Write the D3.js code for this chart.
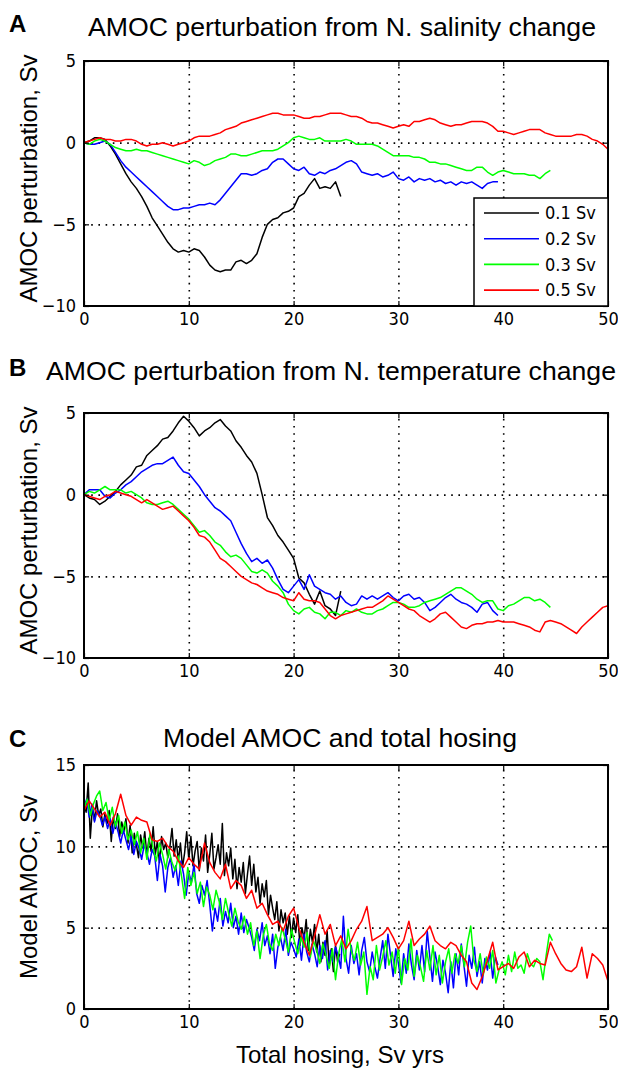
<!DOCTYPE html>
<html>
<head>
<meta charset="utf-8">
<script src="https://cdn.jsdelivr.net/npm/d3@7"></script>
<style>
  body { margin: 0; background: #fff; }
  .tick text { font-family: "Liberation Sans Narrow", "DejaVu Sans Condensed", sans-serif; font-size: 18px; fill: #000; }
  .tick line { stroke: #000; stroke-width: 1.2; }
  .grid .tick line { stroke: #000; stroke-width: 1.6; stroke-dasharray: 1.6,5.6; }
  .title { font-family: "Liberation Sans", Arial, sans-serif; font-size: 26px; fill: #000; }
  .letter { font-family: "Liberation Sans", Arial, sans-serif; font-size: 24px; font-weight: bold; fill: #000; }
  .axisLabel { font-family: "Liberation Sans", Arial, sans-serif; font-size: 24px; fill: #000; }
  .legendText { font-family: "Liberation Sans Narrow", "DejaVu Sans Condensed", sans-serif; font-size: 18px; fill: #000; }
</style>
</head>
<body>
<div id="chart"></div>
<script>
// Hosing rates (Sv) and legend labels
const rates = [0.1, 0.2, 0.3, 0.5];
const legendLabels = ["0.1 Sv", "0.2 Sv", "0.3 Sv", "0.5 Sv"];
const xTicks = [0, 10, 20, 30, 40, 50];

// x spacing (Sv yrs) of the values in each list
const perturbSteps = [0.5, 0.5, 0.5, 0.5];
const amocSteps = [0.2, 0.25, 0.3, 0.5];

// Panel A: AMOC perturbation from salinity change
const salBlack = [0, 0.1, 0.3, 0.3, 0.2, -0.2, -0.7, -1.3, -1.9, -2.4,
  -2.8, -3.3, -3.9, -4.6, -5.1, -5.6, -6.1, -6.5, -6.7, -6.6,
  -6.7, -6.5, -6.6, -7.0, -7.5, -7.8, -7.9, -7.8, -7.8, -7.3,
  -7.2, -7.4, -7.2, -6.8, -5.8, -5.0, -4.7, -4.6, -4.3, -4.2,
  -4.0, -3.3, -3.1, -2.6, -2.2, -2.8, -2.7, -2.8, -2.4, -3.3];
const salBlue = [0, -0.1, -0.1, 0.0, 0.1, -0.1, -0.6, -1.1, -1.5, -1.8,
  -2.1, -2.4, -2.7, -3.0, -3.3, -3.6, -3.9, -4.1, -4.1, -4.0,
  -4.0, -3.9, -3.8, -3.8, -3.7, -3.8, -3.5, -3.1, -2.7, -2.3,
  -1.9, -1.9, -2.0, -1.9, -1.7, -1.6, -1.2, -1.0, -1.0, -1.3,
  -1.6, -1.7, -1.5, -1.9, -2.0, -1.8, -1.9, -1.7, -1.6, -1.4,
  -1.2, -1.1, -1.3, -1.8, -1.9, -2.0, -1.9, -2.1, -2.0, -1.8,
  -2.2, -2.3, -2.1, -2.4, -2.2, -2.3, -2.2, -2.4, -2.3, -2.5,
  -2.4, -2.6, -2.4, -2.5, -2.4, -2.6, -2.8, -2.5, -2.4, -2.4];
const salGreen = [0, -0.1, 0.1, 0.2, 0.1, -0.1, -0.3, -0.4, -0.5, -0.5,
  -0.4, -0.5, -0.5, -0.6, -0.7, -0.8, -0.9, -1.0, -1.1, -1.2,
  -1.3, -1.1, -1.2, -1.4, -1.3, -1.1, -1.0, -0.9, -0.7, -0.7,
  -0.8, -0.8, -0.7, -0.6, -0.5, -0.5, -0.5, -0.4, -0.2, 0.0,
  0.3, 0.4, 0.3, 0.2, 0.2, 0.3, 0.1, 0.1, 0.1, 0.1,
  0.2, 0.1, -0.1, -0.1, -0.1, -0.1, -0.2, -0.4, -0.6, -0.8,
  -0.8, -0.8, -0.8, -0.9, -0.9, -1.0, -1.2, -1.2, -1.3, -1.3,
  -1.4, -1.5, -1.6, -1.7, -1.7, -1.5, -1.5, -1.8, -2.0, -1.8,
  -1.7, -1.8, -1.9, -1.9, -1.9, -2.0, -2.0, -2.2, -1.9, -1.7];
const salRed = [0, 0.1, 0.2, 0.3, 0.2, 0.2, 0.1, 0.1, 0.2, 0.2,
  0.1, -0.1, -0.2, -0.1, -0.1, 0.0, -0.1, -0.2, -0.1, 0.0,
  0.1, 0.3, 0.4, 0.4, 0.4, 0.5, 0.6, 0.8, 0.9, 1.0,
  1.2, 1.3, 1.4, 1.5, 1.6, 1.7, 1.8, 1.8, 1.7, 1.7,
  1.7, 1.6, 1.5, 1.5, 1.6, 1.6, 1.7, 1.8, 1.8, 1.8,
  1.7, 1.6, 1.6, 1.5, 1.3, 1.2, 1.2, 1.1, 1.0, 0.9,
  1.0, 1.1, 1.0, 1.3, 1.3, 1.4, 1.5, 1.4, 1.2, 1.1,
  1.0, 1.1, 1.1, 1.2, 1.3, 1.3, 1.3, 1.2, 1.0, 0.7,
  0.7, 0.6, 0.5, 0.6, 0.7, 0.8, 0.8, 0.8, 0.6, 0.5,
  0.4, 0.4, 0.4, 0.4, 0.5, 0.5, 0.4, 0.2, 0.1, -0.1, -0.4];

// Panel B: AMOC perturbation from temperature change
const tempBlack = [0, -0.2, -0.3, -0.6, -0.4, -0.1, 0.2, 0.6, 0.9, 1.2,
  1.7, 1.8, 2.4, 2.7, 3.0, 3.4, 3.5, 3.9, 4.4, 4.8,
  4.5, 4.1, 3.6, 3.9, 4.1, 4.4, 4.6, 4.2, 3.9, 3.3,
  2.9, 2.4, 2.0, 1.3, 0.0, -1.4, -1.9, -2.5, -2.9, -3.4,
  -3.9, -5.1, -5.4, -6.1, -6.7, -5.9, -6.8, -7.0, -7.4, -5.9];
const tempBlue = [0, 0.3, 0.3, 0.3, -0.1, -0.2, 0.1, 0.3, 0.6, 0.8,
  1.1, 1.4, 1.6, 1.8, 1.9, 1.9, 2.1, 2.3, 1.8, 1.4,
  1.3, 0.9, 0.5, 0.0, -0.4, -0.8, -1.0, -1.3, -1.6, -2.3,
  -3.0, -3.6, -4.1, -3.9, -4.2, -4.0, -4.5, -5.2, -5.8, -6.0,
  -5.6, -5.2, -5.8, -4.9, -5.6, -5.8, -6.0, -6.1, -6.4, -6.2,
  -6.6, -6.8, -6.7, -6.2, -6.4, -6.2, -6.4, -6.2, -6.0, -6.3,
  -6.5, -6.2, -6.1, -6.4, -6.3, -6.6, -7.1, -6.9, -6.6, -6.3,
  -6.1, -6.4, -6.6, -6.7, -6.9, -7.2, -6.7, -6.6, -7.1, -7.4];
const tempGreen = [0, 0.2, 0.1, 0.3, 0.5, 0.3, 0.3, 0.3, 0.1, 0.2,
  0.0, -0.2, -0.5, -0.6, -0.6, -0.5, -0.4, -0.6, -0.9, -1.2,
  -1.5, -1.9, -2.3, -2.2, -2.5, -2.9, -3.1, -3.5, -3.8, -3.7,
  -3.9, -4.3, -4.7, -4.8, -4.6, -4.8, -5.3, -5.6, -6.0, -6.7,
  -7.1, -7.3, -7.0, -6.9, -7.2, -7.3, -7.6, -7.2, -7.2, -7.4,
  -7.1, -7.2, -7.0, -7.2, -7.3, -7.3, -7.1, -7.0, -6.8, -6.6,
  -6.6, -6.7, -6.9, -6.9, -6.8, -6.6, -6.5, -6.4, -6.3, -6.1,
  -5.9, -5.7, -5.7, -5.9, -6.1, -6.4, -6.6, -6.5, -6.5, -7.0,
  -7.1, -6.8, -6.7, -6.5, -6.3, -6.3, -6.5, -6.4, -6.6, -6.9];
const tempRed = [0, -0.1, -0.2, -0.3, -0.1, 0.0, 0.2, 0.1, 0.0, -0.1,
  -0.3, -0.5, -0.3, -0.5, -0.7, -0.9, -0.8, -0.7, -1.0, -1.3,
  -1.6, -2.0, -2.5, -2.6, -2.9, -3.4, -3.9, -4.1, -4.4, -4.7,
  -5.0, -5.2, -5.4, -5.5, -5.7, -5.9, -6.0, -6.1, -6.3, -6.4,
  -6.5, -6.0, -6.4, -6.5, -6.5, -6.6, -7.0, -7.4, -7.6, -7.4,
  -7.3, -7.2, -7.1, -7.0, -6.9, -6.9, -6.7, -6.5, -6.2, -6.4,
  -6.6, -6.8, -7.0, -7.1, -7.4, -7.6, -7.8, -7.6, -7.3, -7.2,
  -7.5, -7.8, -8.1, -8.2, -8.0, -7.9, -7.9, -7.8, -7.8, -7.7,
  -7.8, -7.8, -7.8, -7.9, -8.0, -8.1, -8.3, -8.4, -7.8, -7.7,
  -7.8, -7.9, -8.1, -8.3, -8.5, -8.1, -7.8, -7.5, -7.2, -6.9, -6.8];

// Panel C: model AMOC (Sv)
const amocBlack = [12.6, 12.1, 13.9, 10.5, 12.4, 11.6, 12.8, 11.9, 12.3, 11.2, 12.0,
  11.4, 12.2, 10.3, 11.8, 11.1, 12.0, 10.6, 11.5, 10.9, 11.7,
  10.2, 11.3, 9.6, 10.8, 10.1, 9.3, 10.7, 9.9, 10.9, 9.4,
  10.5, 9.7, 11.2, 9.5, 10.3, 9.0, 10.6, 9.8, 10.2, 9.3,
  10.0, 11.1, 9.4, 10.4, 9.1, 10.2, 8.7, 9.6, 10.9, 9.2,
  10.6, 8.8, 9.7, 10.3, 8.5, 9.9, 9.1, 10.7, 8.4, 9.5,
  10.8, 8.6, 9.3, 10.1, 8.9, 11.4, 8.2, 9.6, 8.8, 9.9,
  8.0, 9.2, 7.4, 8.7, 7.8, 9.0, 7.1, 8.3, 9.4, 7.6,
  8.9, 7.2, 8.1, 6.5, 7.7, 6.9, 7.9, 5.8, 7.0, 6.2,
  5.5, 6.6, 4.8, 6.1, 5.3, 5.9, 4.6, 5.7, 4.4, 5.6,
  4.7, 5.8, 3.9, 5.0, 4.3, 5.5, 3.6, 4.9, 4.1, 5.2,
  3.5, 4.6, 2.9, 4.1, 3.3, 4.8, 2.6, 3.7, 2.3, 3.9,
  2.9, 3.4];
const amocBlue = [12.4, 12.9, 11.8, 12.6, 11.5, 12.2, 11.9, 11.3, 11.8,
  11.1, 11.7, 10.8, 11.5, 10.9, 10.2, 11.0, 10.4,
  9.8, 10.6, 9.5, 10.3, 9.9, 9.2, 10.1, 9.6,
  8.9, 9.8, 9.4, 7.9, 9.5, 8.8, 7.2, 8.7,
  9.3, 8.1, 8.8, 7.6, 9.1, 8.3, 7.0, 8.4,
  7.8, 8.9, 7.1, 6.5, 7.6, 7.0, 7.9, 6.4,
  4.8, 6.2, 5.4, 6.8, 5.1, 6.0, 5.3, 6.5,
  5.0, 5.7, 4.6, 5.9, 4.7, 5.5, 5.0, 4.4,
  3.6, 4.9, 4.2, 5.3, 3.9, 4.5, 3.4, 4.6,
  2.5, 3.8, 4.4, 3.6, 4.9, 3.3, 4.1, 3.7,
  3.2, 4.3, 3.0, 4.6, 3.5, 2.9, 4.0, 3.4,
  2.6, 3.9, 3.1, 4.2, 2.4, 3.6, 2.9, 3.8,
  3.3, 2.5, 5.7, 3.1, 2.2, 3.9, 2.8, 3.4,
  2.1, 3.6, 4.4, 2.9, 2.3, 3.5, 2.6, 1.9,
  3.1, 4.2, 2.5, 4.6, 3.3, 2.0, 3.7, 2.8,
  1.6, 3.4, 2.2, 4.0, 2.7, 1.8, 3.6, 2.4,
  3.9, 2.3, 4.8, 3.2, 1.7, 3.5, 2.6, 1.5,
  3.0, 2.2, 1.0, 2.9, 1.3, 3.4, 2.1, 4.0,
  2.7, 1.4, 3.3, 2.5, 3.8, 2.0, 2.9, 1.6,
  3.1, 2.4, 3.5, 1.9, 3.2, 2.7];
const amocGreen = [12.3, 12.9, 11.9, 12.6, 13.1, 13.4, 12.2, 12.7, 11.6, 12.4,
  11.2, 11.9, 10.8, 11.5, 10.4, 11.0, 10.1, 10.9, 9.6, 10.5,
  9.2, 10.8, 9.9, 9.1, 10.2, 9.5, 8.6, 9.8, 9.0, 8.5,
  9.4, 8.2, 6.8, 8.7, 7.6, 8.4, 7.1, 7.8, 6.3, 7.5,
  7.0, 6.1, 7.3, 6.6, 5.5, 6.8, 5.9, 5.1, 6.2, 5.4,
  4.9, 5.7, 4.6, 5.3, 3.9, 4.8, 3.1, 4.5, 5.2, 4.0,
  3.6, 4.6, 3.9, 5.0, 4.3, 3.5, 4.9, 4.1, 3.4, 4.4,
  3.8, 4.7, 3.2, 4.2, 3.6, 2.8, 4.0, 3.3, 2.5, 3.7,
  1.8, 3.4, 4.3, 2.9, 4.9, 3.6, 3.0, 4.1, 2.7, 3.5,
  0.9, 2.6, 1.8, 3.9, 2.4, 3.2, 4.2, 2.7, 3.5, 2.2,
  3.8, 1.5, 3.1, 2.4, 4.3, 2.0, 3.3, 2.6, 1.7, 3.6,
  2.4, 3.9, 2.1, 3.3, 1.6, 2.9, 3.7, 2.2, 3.4, 2.8,
  3.9, 2.6, 4.1, 5.1, 3.0, 2.3, 3.4, 2.1, 3.2, 2.5,
  3.6, 1.6, 2.4, 2.9, 2.1, 3.3, 2.3, 3.5, 2.5, 2.7,
  2.2, 3.4, 2.8, 2.6, 3.1, 2.9, 1.8, 3.3, 4.6, 4.2];
const amocRed = [12.2, 12.8, 12.3, 11.8, 12.1, 11.3, 12.0, 13.2, 11.9, 11.3,
  11.8, 11.6, 11.5, 10.4, 10.3, 10.5, 10.0, 9.7, 9.1, 8.7,
  9.3, 8.9, 8.6, 10.2, 9.0, 8.4, 8.0, 8.9, 7.4, 7.9,
  7.6, 6.8, 7.3, 6.2, 6.5, 5.8, 5.2, 5.4, 4.8, 5.7,
  6.2, 5.0, 4.1, 3.3, 4.5, 5.8, 4.6, 5.2, 3.9, 4.5,
  3.7, 4.2, 4.9, 5.4, 6.3, 4.2, 4.4, 4.6, 5.0, 4.4,
  3.7, 4.2, 5.4, 3.9, 4.3, 4.6, 5.1, 4.2, 3.9, 3.7,
  4.1, 3.9, 3.3, 2.9, 1.6, 1.2, 2.0, 3.0, 4.1, 2.4,
  2.6, 2.8, 2.5, 3.2, 3.5, 2.6, 3.0, 2.8, 2.7, 4.1,
  3.4, 2.8, 2.4, 2.3, 2.6, 3.8, 1.9, 3.4, 3.1, 2.7, 1.7];

// Page and plot box
const svgWidth = 618;
const svgHeight = 1069;
const plotLeft = 84;
const plotRight = 608;
const colors = ["#000000", "#0000ff", "#00ff00", "#ff0000"];

const svg = d3.select("#chart")
  .append("svg")
  .attr("width", svgWidth)
  .attr("height", svgHeight)
  .style("display", "block");

svg.append("rect").attr("width", svgWidth).attr("height", svgHeight).attr("fill", "#fff");

const xScale = d3.scaleLinear().domain([0, 50]).range([plotLeft, plotRight]);

const panels = [
  {
    letter: "A", letterY: 32,
    title: "AMOC perturbation from N. salinity change", titleX: 88, titleY: 36, titleLen: 508,
    top: 61, bottom: 306, yDomain: [-10, 5], yTicks: [-10, -5, 0, 5], yGrid: [-5, 0],
    yLabel: "AMOC perturbation, Sv", yLabelShift: -5,
    series: [salBlack, salBlue, salGreen, salRed], steps: perturbSteps,
    legend: true
  },
  {
    letter: "B", letterY: 376,
    title: "AMOC perturbation from N. temperature change", titleX: 46, titleY: 380, titleLen: 570,
    top: 413, bottom: 658, yDomain: [-10, 5], yTicks: [-10, -5, 0, 5], yGrid: [-5, 0],
    yLabel: "AMOC perturbation, Sv", yLabelShift: -5,
    series: [tempBlack, tempBlue, tempGreen, tempRed], steps: perturbSteps,
    legend: false
  },
  {
    letter: "C", letterY: 747,
    title: "Model AMOC and total hosing", titleX: 163, titleY: 747, titleLen: 354,
    top: 765, bottom: 1009, yDomain: [0, 15], yTicks: [0, 5, 10, 15], yGrid: [5, 10],
    yLabel: "Model AMOC, Sv", yLabelShift: 0,
    series: [amocBlack, amocBlue, amocGreen, amocRed], steps: amocSteps,
    legend: false
  }
];

function drawPanel(p) {
  let g = svg.append("g");
  let h = p.bottom - p.top;
  let yScale = d3.scaleLinear().domain(p.yDomain).range([p.bottom, p.top]);

  // panel letter and title
  g.append("text").attr("class", "letter").attr("x", 9).attr("y", p.letterY).text(p.letter);
  g.append("text").attr("class", "title")
    .attr("x", p.titleX).attr("y", p.titleY)
    .attr("textLength", p.titleLen).attr("lengthAdjust", "spacingAndGlyphs")
    .text(p.title);

  // dotted grid
  g.append("g").attr("class", "grid")
    .attr("transform", `translate(0, ${p.bottom})`)
    .call(d3.axisBottom(xScale).tickValues([10, 20, 30, 40]).tickSize(-h).tickFormat(""))
    .call((s) => s.select(".domain").remove());
  g.append("g").attr("class", "grid")
    .attr("transform", `translate(${plotLeft}, 0)`)
    .call(d3.axisLeft(yScale).tickValues(p.yGrid).tickSize(-(plotRight - plotLeft)).tickFormat(""))
    .call((s) => s.select(".domain").remove());

  // data lines
  let plotArea = g.append("g");
  p.series.forEach(function (values, i) {
    let step = p.steps[i];
    let line = d3.line()
      .x((d, j) => xScale(j * step))
      .y((d) => yScale(d));
    plotArea.append("path")
      .datum(values)
      .attr("fill", "none")
      .attr("stroke", colors[i])
      .attr("stroke-width", 1.5)
      .attr("stroke-linejoin", "round")
      .attr("d", line);
  });

  // axes with inward ticks
  g.append("g").attr("transform", `translate(0, ${p.bottom})`)
    .call(d3.axisBottom(xScale).tickValues(xTicks).tickSizeInner(-5).tickSizeOuter(0).tickPadding(6))
    .call((s) => s.select(".domain").remove());
  g.append("g").attr("transform", `translate(${plotLeft}, 0)`)
    .call(d3.axisLeft(yScale).tickValues(p.yTicks).tickSizeInner(-5).tickSizeOuter(0).tickPadding(8))
    .call((s) => s.select(".domain").remove());
  g.append("g").attr("transform", `translate(0, ${p.top})`)
    .call(d3.axisTop(xScale).tickValues(xTicks).tickSizeInner(-5).tickSizeOuter(0).tickFormat(""))
    .call((s) => s.select(".domain").remove());
  g.append("g").attr("transform", `translate(${plotRight}, 0)`)
    .call(d3.axisRight(yScale).tickValues(p.yTicks).tickSizeInner(-5).tickSizeOuter(0).tickFormat(""))
    .call((s) => s.select(".domain").remove());

  // box
  g.append("rect")
    .attr("x", plotLeft).attr("y", p.top)
    .attr("width", plotRight - plotLeft).attr("height", h)
    .attr("fill", "none").attr("stroke", "#000").attr("stroke-width", 2);

  // y label
  g.append("text").attr("class", "axisLabel")
    .attr("transform", `translate(37, ${(p.top + p.bottom) / 2 + p.yLabelShift}) rotate(-90)`)
    .attr("text-anchor", "middle")
    .text(p.yLabel);

  // legend
  if (p.legend) {
    let lg = g.append("g");
    lg.append("rect")
      .attr("x", 474).attr("y", 198).attr("width", plotRight - 474).attr("height", p.bottom - 198)
      .attr("fill", "#fff").attr("stroke", "#000").attr("stroke-width", 1.5);
    legendLabels.forEach(function (label, i) {
      let ly = 213 + i * 25.7;
      lg.append("line")
        .attr("x1", 484).attr("x2", 539).attr("y1", ly).attr("y2", ly)
        .attr("stroke", colors[i]).attr("stroke-width", 1.6);
      lg.append("text").attr("class", "legendText")
        .attr("x", 545).attr("y", ly).attr("dy", "0.35em")
        .text(label);
    });
  }
}

panels.forEach(drawPanel);

// x label below panel C
svg.append("text").attr("class", "axisLabel")
  .attr("x", 340).attr("y", 1063)
  .attr("text-anchor", "middle")
  .text("Total hosing, Sv yrs");
</script>
</body>
</html>
